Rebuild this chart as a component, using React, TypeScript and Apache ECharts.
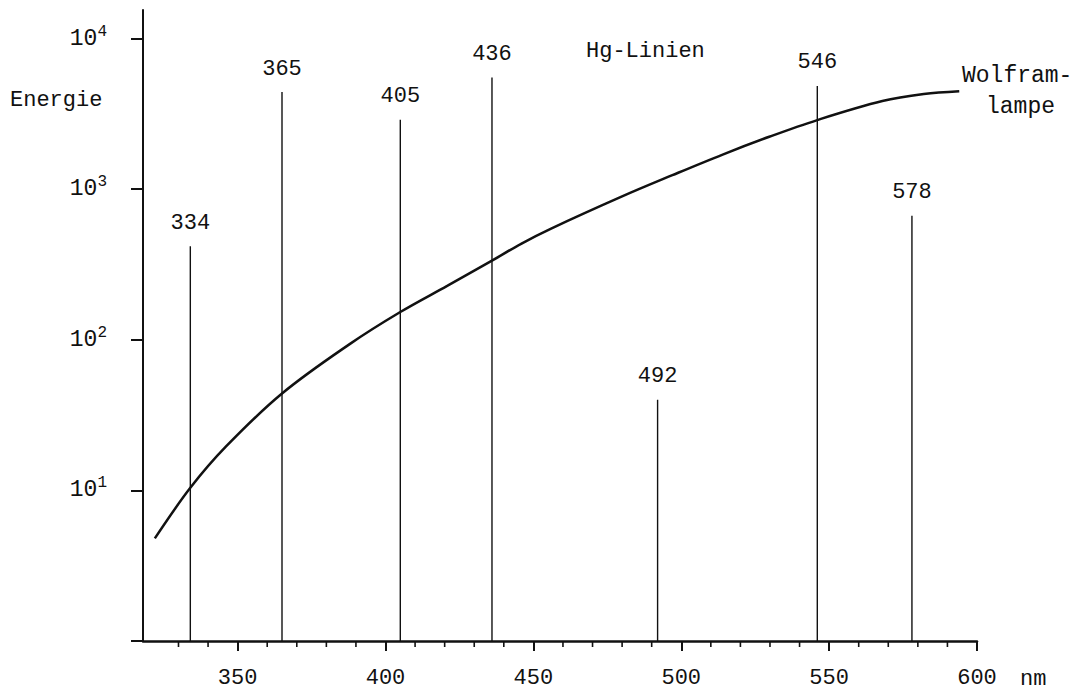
import React, { useEffect, useRef } from "react";
import * as echarts from "echarts";

// Wolframlampe curve (nm, relative energy)
const curveWavelengths = [322, 334, 346, 365, 388, 405, 421, 436, 446, 456, 480, 497, 514, 530, 546, 568, 582, 594];
const curveEnergy = [4.8, 10.4, 19.5, 44, 94, 153, 229, 336, 436, 548, 896, 1240, 1700, 2240, 2880, 3850, 4290, 4480];

// Hg lines
const hgWavelengths = [334, 365, 405, 436, 492, 546, 578];
const hgEnergy = [418, 4420, 2890, 5530, 40, 4850, 668];

// Axis ticks
const xMajorTicks = [350, 400, 450, 500, 550, 600];
const xMinorTicks = [330, 340, 360, 370, 380, 390, 410, 420, 430, 440, 460, 470, 480, 490, 510, 520, 530, 540, 560, 570, 580, 590];

const FONT = "'Liberation Mono', 'DejaVu Sans Mono', monospace";
const INK = "#111";

export default function App() {
  const ref = useRef<HTMLDivElement>(null);
  useEffect(() => {
    if (!ref.current) return;
    const chart = echarts.init(ref.current, undefined, { renderer: "svg" });
    const option: any = {
      animation: false,
      backgroundColor: "#fff",
      grid: { left: 143, right: 112, top: 10, bottom: 54 },
      xAxis: {
        type: "value",
        min: 318,
        max: 600,
        axisLine: { show: true, lineStyle: { color: INK, width: 2.5 } },
        axisTick: { show: true, customValues: xMajorTicks, length: 10, lineStyle: { color: INK, width: 2 } },
        axisLabel: {
          customValues: xMajorTicks,
          margin: 26,
          color: INK,
          fontFamily: FONT,
          fontSize: 22,
        },
        splitLine: { show: false },
      },
      yAxis: {
        type: "log",
        logBase: 10,
        min: 1,
        max: 15500,
        axisLine: { show: true, lineStyle: { color: INK, width: 2 } },
        axisTick: { show: true, length: 12, lineStyle: { color: INK, width: 2 } },
        axisLabel: {
          margin: 36,
          color: INK,
          fontFamily: FONT,
          fontSize: 23,
          showMaxLabel: false,
          formatter: (v: number) => {
            const l = Math.log10(v);
            const e = Math.round(l);
            if (Math.abs(l - e) > 0.01 || e <= 0 || e > 4) return "";
            return "10{sup|" + e + "}";
          },
          rich: {
            sup: { fontSize: 16, fontFamily: FONT, color: INK, padding: [0, 0, 14, 0] },
          },
        },
        splitLine: { show: false },
        minorTick: { show: false },
      },
      series: [
        {
          type: "line",
          data: curveWavelengths.map((w, i) => [w, curveEnergy[i]]),
          smooth: 0.35,
          showSymbol: false,
          symbol: "none",
          lineStyle: { color: INK, width: 2.5 },
          z: 3,
        },
        {
          type: "custom",
          data: hgWavelengths.map((w, i) => [w, hgEnergy[i]]),
          renderItem: (params: any, api: any) => {
            const x = api.value(0);
            const v = api.value(1);
            const top = api.coord([x, v]);
            const bottom = api.coord([x, 1]);
            return {
              type: "group",
              children: [
                {
                  type: "line",
                  shape: { x1: top[0], y1: top[1], x2: bottom[0], y2: bottom[1] },
                  style: { stroke: INK, lineWidth: 1.4 },
                },
                {
                  type: "text",
                  style: {
                    text: String(x),
                    x: top[0],
                    y: top[1] - 23,
                    align: "center",
                    verticalAlign: "middle",
                    fontFamily: FONT,
                    fontSize: 22,
                    fill: INK,
                  },
                },
              ],
            };
          },
          z: 2,
        },
        {
          type: "custom",
          clip: false,
          silent: true,
          data: xMinorTicks.map((t) => [t, 1]),
          renderItem: (params: any, api: any) => {
            const p = api.coord([api.value(0), 1]);
            return {
              type: "line",
              shape: { x1: p[0], y1: p[1], x2: p[0], y2: p[1] + 6 },
              style: { stroke: INK, lineWidth: 1.6 },
            };
          },
          z: 10,
        },
      ],
      graphic: [
        { type: "text", left: 10, top: 89, style: { text: "Energie", fontFamily: FONT, fontSize: 22, fill: INK } },
        { type: "text", left: 586, top: 40, style: { text: "Hg-Linien", fontFamily: FONT, fontSize: 22, fill: INK } },
        { type: "text", left: 962, top: 64, style: { text: "Wolfram-", fontFamily: FONT, fontSize: 23, fill: INK } },
        { type: "text", left: 986, top: 95, style: { text: "lampe", fontFamily: FONT, fontSize: 23, fill: INK } },
        { type: "text", left: 1020, top: 668, style: { text: "nm", fontFamily: FONT, fontSize: 22, fill: INK } },
      ],
    };
    chart.setOption(option);
    return () => chart.dispose();
  }, []);
  return (
    <div
      ref={ref}
      style={{ position: "absolute", left: 0, top: 0, width: 1089, height: 695, background: "#fff" }}
    />
  );
}
